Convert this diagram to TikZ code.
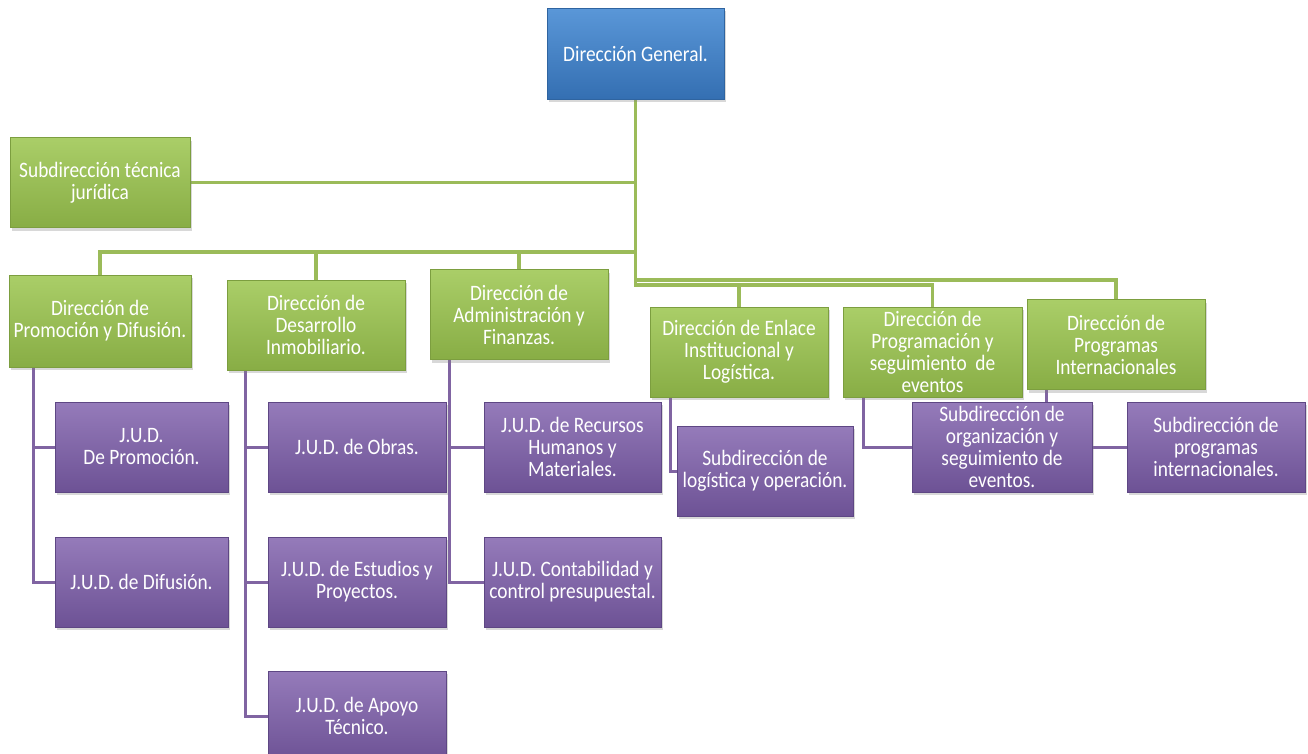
\documentclass[tikz,border=0pt]{standalone}
\usepackage{fontspec}
\setmainfont{Carlito}[FakeStretch=0.88]
\usetikzlibrary{positioning,shadows,backgrounds}
\definecolor{bltop}{HTML}{5A97D8}
\definecolor{blbot}{HTML}{346FB2}
\definecolor{blbrd}{HTML}{2F64A0}
\definecolor{grtop}{HTML}{AACE68}
\definecolor{grbot}{HTML}{88AD45}
\definecolor{grbrd}{HTML}{7C9E3F}
\definecolor{grline}{HTML}{9BBB59}
\definecolor{putop}{HTML}{957BBA}
\definecolor{pubot}{HTML}{6D5295}
\definecolor{pubrd}{HTML}{5E4784}
\definecolor{puline}{HTML}{8064A2}
\newcommand\orgfont{\fontsize{22}{22}\selectfont}

\begin{document}
\begin{tikzpicture}[x=1pt,y=-1pt,
    box/.style={rectangle, minimum width=178pt, minimum height=90pt, inner sep=1pt,
      align=center, text=white, font=\orgfont, line width=0.6pt,
      drop shadow={shadow xshift=2pt, shadow yshift=-3pt, opacity=0.3}},
    topbox/.style={box, top color=bltop, bottom color=blbot, draw=blbrd},
    dirbox/.style={box, top color=grtop, bottom color=grbot, draw=grbrd},
    judbox/.style={box, top color=putop, bottom color=pubot, draw=pubrd},
    gline/.style={draw=grline, line width=3.5pt},
    pline/.style={draw=puline, line width=3pt}]
  \useasboundingbox (0,0) rectangle (1308,753);

  \node[topbox, minimum width=177pt, minimum height=91pt] (dg) at (635.5,53.5) {Dirección General.};

  \node[dirbox, minimum width=180pt] (tec) at (100,182.5) {Subdirección técnica\\jurídica};
  \node[dirbox, minimum width=182pt, minimum height=92pt] (promo) at (100,321) {Dirección de\\Promoción y Difusión.};
  \node[dirbox] (desa) at (316,325) {Dirección de\\Desarrollo\\Inmobiliario.};
  \node[dirbox] (admin) at (519,314.5) {Dirección de\\Administración y\\Finanzas.};
  \node[dirbox] (enlace) at (739,352) {Dirección de Enlace\\Institucional y\\Logística.};
  \node[dirbox, minimum width=179pt] (progr) at (932.5,352) {Dirección de\\Programación y\\seguimiento\ \ de\\eventos};
  \node[dirbox] (intl) at (1116,344.5) {Dirección de\\Programas\\Internacionales};

  \node[judbox, minimum width=173pt] (jpromo) at (141.5,447) {J.U.D.\\De Promoción.};
  \node[judbox, minimum width=173pt] (jdifu) at (141.5,582) {J.U.D. de Difusión.};
  \node[judbox] (jobras) at (357,447) {J.U.D. de Obras.};
  \node[judbox] (jestud) at (357,582) {J.U.D. de Estudios y\\Proyectos.};
  \node[judbox] (japoyo) at (357,716) {J.U.D. de Apoyo\\Técnico.};
  \node[judbox, minimum width=177pt] (jrecur) at (572.5,447) {J.U.D. de Recursos\\Humanos y\\Materiales.};
  \node[judbox, minimum width=177pt] (jconta) at (572.5,582) {J.U.D. Contabilidad y\\control presupuestal.};
  \node[judbox, minimum width=176pt] (slogis) at (765,471) {Subdirección de\\logística y operación.};
  \node[judbox, minimum width=180pt] (sorga) at (1002,447) {Subdirección de\\organización y\\seguimiento de\\eventos.};
  \node[judbox] (sintl) at (1216,447) {Subdirección de\\programas\\internacionales.};

  \begin{pgfonlayer}{background}
    \fill[white] (0,0) rectangle (1308,753);
    \draw[gline] (dg.south) -- (dg.south |- 0,285) -| (progr.north);
    \draw[gline] (dg.south |- 0,280) -| (intl.north);
    \draw[gline] (dg.south |- 0,285) -| (enlace.north);
    \draw[gline] (tec.east) -- (tec.east -| dg.south);
    \draw[gline] (dg.south |- 0,252) -| (promo.north);
    \draw[gline] (dg.south |- 0,252) -| (desa.north);
    \draw[gline] (dg.south |- 0,252) -| (admin.north);

    \draw[pline] ([xshift=-67pt]promo.south) |- (jpromo.west);
    \draw[pline] ([xshift=-67pt]promo.south) |- (jdifu.west);
    \draw[pline] ([xshift=-71pt]desa.south) |- (jobras.west);
    \draw[pline] ([xshift=-71pt]desa.south) |- (jestud.west);
    \draw[pline] ([xshift=-71pt]desa.south) |- (japoyo.west);
    \draw[pline] ([xshift=-70pt]admin.south) |- (jrecur.west);
    \draw[pline] ([xshift=-70pt]admin.south) |- (jconta.west);
    \draw[pline] ([xshift=-69pt]enlace.south) |- (slogis.west);
    \draw[pline] ([xshift=-69pt]progr.south) |- (sorga.west);
    \draw[pline] ([xshift=-70pt]intl.south) |- (sintl.west);
  \end{pgfonlayer}
\end{tikzpicture}
\end{document}
